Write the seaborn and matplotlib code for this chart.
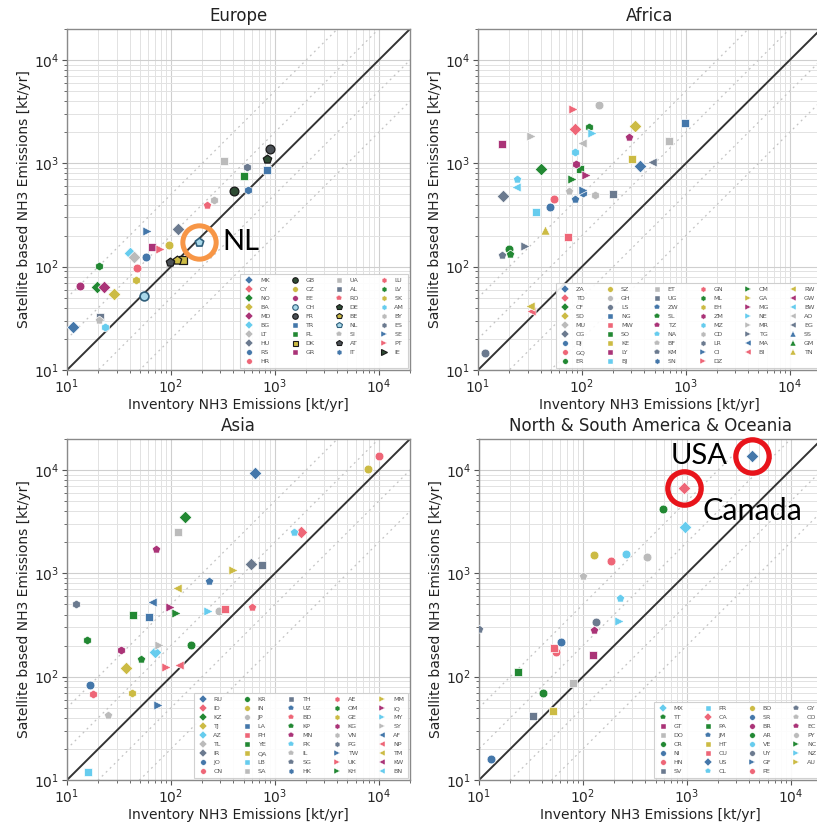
import numpy as np
import matplotlib
matplotlib.use("Agg")
import matplotlib.pyplot as plt
from matplotlib.lines import Line2D
import seaborn as sns

nan = np.nan

# ---------------- data ----------------
EU_CODES = ['MK','CY','NO','BA','MD','BG','LT','HU','RS','HR','GB','CZ','EE','CH','FR',
            'TR','PL','DK','GR','UA','AL','RO','DE','BE','NL','SI','AT','IT','LU','LV',
            'SK','AM','BY','ES','SE','PT','IE']
EU_INV = [11.4, nan, 19.4, 28.1, 22.9, 40, 44.4, 116, 58, 47, 401, 96.4, 13.4, 54.6, 889,
          838, 500, 130, 65.6, 321, 20.9, 222, 849, 114, 187, 20.2, 98.6, 558, nan, 20.1,
          46.4, 23.4, 261, 538, 58.7, 77.8, nan]
EU_SAT = [26.3, nan, 64, 55, 63, 136, 125, 230, 125, 98, 543, 162, 65, 52, 1365,
          861, 760, 117, 156, 1050, 32.4, 393, 1110, 116, 172, 30.5, 112, 552, nan, 101,
          75, 25.9, 441, 914, 223, 147, nan]

AF_CODES = ['ZA','TD','CF','SD','MU','CG','DJ','GQ','ER','SZ','GH','LS','NG','MW','SO','KE',
            'LY','BJ','ET','UG','ZW','SL','TZ','NA','BF','KM','SN','GN','ML','EH','ZM','MZ',
            'CD','LR','CI','DZ','CM','GA','MG','NE','MR','TG','MA','BI','RW','GW','BW','AO',
            'EG','SS','GM','TN']
AF_INV = [361, 85.5, 40.8, 326, nan, 17.5, 49.8, 54.3, 19.7, nan, 145, 11.7, 985, 73.3, 96.4, 305,
          16.9, 36.1, 695, 201, 84.9, 20.4, 285, 23.5, 74.3, 16.9, 102, nan, 117, nan, 87.5, 85,
          135, nan, 102, 81.8, 80.5, nan, 110, 126, 32.4, 28.3, nan, 32.6, 31.6, nan, 23.2, 99.3,
          475, nan, nan, 44.5]
AF_SAT = [942, 2134, 881, 2296, nan, 483, 375, 455, 150, nan, 3670, 14.5, 2477, 195, 875, 1094,
          1538, 341, 1633, 505, 449, 134, 1812, 700, 540, 130, 515, nan, 2228, nan, 977, 1297,
          497, nan, 552, 3335, 700, nan, 770, 1950, 1854, 158, nan, 37.2, 41.6, nan, 594, 1585,
          1038, nan, nan, 226]

AS_CODES = ['RU','ID','KZ','TJ','AZ','TL','IR','JO','CN','KR','IN','JP','LA','PH','YE','QA',
            'LB','SA','TH','UZ','BD','KP','MN','PK','IL','SG','HK','AE','OM','GE','KG','VN',
            'PG','TW','UK','KH','MM','IQ','MY','SY','AF','NP','TM','KW','BN']
AS_INV = [647, 1780, 137, 36.9, 70.6, nan, 591, 16.8, 10070, 157, 7940, 290, 61, 333, 43.1, nan,
          15.8, 117, 750, 235, 601, 51.9, 71.2, 1535, 24.8, nan, nan, 17.7, 15.6, 42.5, 33, nan,
          12.3, 75.5, 89.5, 112, 394, 97, 230, 77.3, 65.6, 120, 114, nan, nan]
AS_SAT = [9420, 2494, 3483, 122, 175, nan, 1241, 84, 13770, 202, 10240, 432, 375, 455, 395, nan,
          12, 2512, 1205, 849, 475, 150, 1706, 2530, 43, nan, nan, 68, 226, 69, 181, nan,
          505, 53, 125, 410, 1084, 475, 432, 202, 524, 130, 716, nan, nan]

AM_CODES = ['MX','TT','GT','DO','CR','NI','HN','SV','PR','CA','PA','JM','HT','CU','US','CL',
            'BO','SR','BR','AR','VE','UY','GF','PE','GY','CO','EC','PY','NC','NZ','AU']
AM_INV = [964, nan, 126, 80.5, 41.3, 13.1, 55.6, 33, nan, 935, 23.5, nan, 51.3, 52.4, 4200, 225,
          129, 61.2, nan, 586, 257, 135, nan, 185, 10.05, 100, 129, 413, nan, 223, nan]
AM_SAT = [2786, nan, 164, 87.5, 69, 16, 172, 42, nan, 6745, 112, nan, 46.9, 191, 13770, 582,
          1503, 215, nan, 4160, 1528, 336, nan, 1327, 287, 948, 281, 1439, nan, 343, nan]

# ---------------- styles ----------------
PAL = {'B': '#4477AA', 'R': '#EE6677', 'G': '#228833', 'Y': '#CCBB44', 'M': '#AA3377',
       'C': '#66CCEE', 'L': '#BBBBBB', 'S': '#6B7A8F', 'K': '#2E4B33', 'A': '#4A4F55'}

EU_COLOR = 'B R G Y M C L S B R K Y M C A B G Y M L S R K Y C L A B R G Y C L S B R K'.split()
EU_MARK = ['D'] * 8 + ['o'] * 7 + ['s'] * 6 + ['p'] * 6 + ['h'] * 7 + ['>'] * 3
EU_EDGE = ['w'] * 37
for c in ['GB', 'FR', 'DK', 'DE', 'BE', 'AT', 'IE']:
    EU_EDGE[EU_CODES.index(c)] = 'k'
for c in ['CH', 'NL']:
    EU_EDGE[EU_CODES.index(c)] = '#2F5E7A'

AF_COLOR = ('B R G Y L S B R G Y L S B R G Y M C L S B G M C L S B R G Y M C L S '
            'B R G Y M C L S B R Y M C L S B G Y').split()
AF_MARK = ['D'] * 6 + ['o'] * 6 + ['s'] * 8 + ['p'] * 6 + ['h'] * 8 + ['>'] * 8 + ['<'] * 7 + ['^'] * 3
AF_EDGE = ['w'] * 52

AS_COLOR = ('B R G Y C L S B R G Y L B R G Y C L S B R G M C L S B R G Y M L S '
            'B R G Y M C L B R Y M C').split()
AS_MARK = ['D'] * 7 + ['o'] * 5 + ['s'] * 7 + ['p'] * 7 + ['h'] * 7 + ['>'] * 7 + ['<'] * 5
AS_EDGE = ['w'] * 45

AM_COLOR = ('C G M L G B R S C R G B Y R B C Y B M G C S B R S L M L G C Y').split()
AM_MARK = ['D', 'p', 's', 's', 'o', 'o', 'o', 's', 's', 'D', 's', 'p', 's', 's', 'D', 'p',
           'o', 'o', 'o', 'o', 'o', 'o', '>', 'o', 'p', 'p', 'p', 'o', '>', '>', '>']
AM_EDGE = ['w'] * 31

SIZES = {'D': 42, 'o': 40, 's': 34, 'p': 40, 'h': 40, '>': 44, '<': 44, '^': 44}
LEG_MS = {'D': 3.8, 'o': 4.0, 's': 3.6, 'p': 4.0, 'h': 4.0, '>': 4.2, '<': 4.2, '^': 4.2}

# ---------------- plot ----------------
sns.set_theme(style="whitegrid")
plt.rcParams['font.family'] = ['DejaVu Sans']

fig = plt.figure(figsize=(8.17, 8.23), dpi=100)
W, H = 817.0, 823.0
AX_W, AX_H = 343 / W, 341 / H
boxes = {
    'Europe': [67 / W, (H - 370) / H, AX_W, AX_H],
    'Africa': [478 / W, (H - 370) / H, AX_W, AX_H],
    'Asia': [67 / W, (H - 780) / H, AX_W, AX_H],
    'America': [479 / W, (H - 780) / H, AX_W, AX_H],
}


def draw_region(ax, title, codes, inv, sat, colors, marks, edges, ncol):
    ax.set_xscale('log')
    ax.set_yscale('log')
    ax.set_xlim(10, 2e4)
    ax.set_ylim(10, 2e4)
    ax.set_facecolor('white')
    ax.grid(True, which='major', color='#CFCFCF', lw=0.8)
    ax.grid(True, which='minor', color='#E2E2E2', lw=0.7)
    ax.set_axisbelow(True)
    for sp in ax.spines.values():
        sp.set_color('#8A8A8A')
        sp.set_linewidth(1.0)
    ax.tick_params(which='both', bottom=True, left=True, direction='out', color='#555555',
                   labelsize=10, pad=2)
    ax.tick_params(which='major', length=3.5, width=0.8)
    ax.tick_params(which='minor', length=2.0, width=0.6)
    ref = np.array([1.0, 1e5])
    for f in (2.0, 5.0):
        ax.plot(ref, ref * f, color='#C4C4C4', lw=0.9, ls=(0, (1.5, 3)), zorder=1.5)
        ax.plot(ref, ref / f, color='#C4C4C4', lw=0.9, ls=(0, (1.5, 3)), zorder=1.5)
    ax.plot(ref, ref, color='#333333', lw=1.4, zorder=2)

    handles = []
    for c, xv, yv, col, m, e in zip(codes, inv, sat, colors, marks, edges):
        face = PAL[col]
        lw = 0.9 if e != 'w' else 0.5
        if e == '#2F5E7A':
            face = '#A9D9EA'
            lw = 1.2
        if not (np.isnan(xv) or np.isnan(yv)):
            sns.scatterplot(x=[xv], y=[yv], ax=ax, marker=m, color=face, edgecolor=e,
                            linewidth=lw, s=SIZES[m], zorder=3, legend=False)
        handles.append(Line2D([], [], ls='', marker=m, markersize=LEG_MS[m],
                              markerfacecolor=face, markeredgecolor=e,
                              markeredgewidth=0.8 if e != 'w' else 0.3, label=c))
    leg = ax.legend(handles=handles, ncol=ncol, loc='lower right', fontsize=4.6,
                    labelspacing=0.55, columnspacing=3.0, handletextpad=0.9,
                    handlelength=1.6, borderaxespad=0.3, borderpad=0.6,
                    frameon=True, fancybox=False, framealpha=0.9)
    leg.get_frame().set_edgecolor('#CCCCCC')
    leg.get_frame().set_linewidth(0.8)
    for t in leg.get_texts():
        t.set_color('#555555')
    leg.set_zorder(5)
    ax.set_title(title, fontsize=12, pad=6, color='#222222')
    ax.set_xlabel('Inventory NH3 Emissions [kt/yr]', fontsize=10, labelpad=1, color='#222222')
    ax.set_ylabel('Satellite based NH3 Emissions [kt/yr]', fontsize=10, labelpad=2, color='#222222')


ax_eu = fig.add_axes(boxes['Europe'])
draw_region(ax_eu, 'Europe', EU_CODES, EU_INV, EU_SAT, EU_COLOR, EU_MARK, EU_EDGE, 4)
ax_af = fig.add_axes(boxes['Africa'])
draw_region(ax_af, 'Africa', AF_CODES, AF_INV, AF_SAT, AF_COLOR, AF_MARK, AF_EDGE, 6)
ax_as = fig.add_axes(boxes['Asia'])
draw_region(ax_as, 'Asia', AS_CODES, AS_INV, AS_SAT, AS_COLOR, AS_MARK, AS_EDGE, 5)
ax_am = fig.add_axes(boxes['America'])
draw_region(ax_am, 'North & South America & Oceania', AM_CODES, AM_INV, AM_SAT,
            AM_COLOR, AM_MARK, AM_EDGE, 4)

# ---------------- slide annotations ----------------
ANN_FONT = ['Lato', 'DejaVu Sans']
i = EU_CODES.index('NL')
ax_eu.plot([EU_INV[i]], [EU_SAT[i]], marker='o', ms=24, mfc='none', mec='#F79646', mew=3.6,
           zorder=6, clip_on=False)
ax_eu.annotate('NL', (EU_INV[i], EU_SAT[i]), xytext=(16.5, 0), textcoords='offset points',
               fontsize=21, family=ANN_FONT, va='center', ha='left', color='black', zorder=6)

j = AM_CODES.index('US')
k = AM_CODES.index('CA')
for idx in (j, k):
    ax_am.plot([AM_INV[idx]], [AM_SAT[idx]], marker='o', ms=24, mfc='none', mec='#E8141B',
               mew=3.8, zorder=6, clip_on=False)
ax_am.annotate('USA', (AM_INV[j], AM_SAT[j]), xytext=(-17, 0), textcoords='offset points',
               fontsize=21, family=ANN_FONT, va='center', ha='right', color='black', zorder=6)
ax_am.annotate('Canada', (AM_INV[k], AM_SAT[k]), xytext=(13.5, -17), textcoords='offset points',
               fontsize=22, family=ANN_FONT, va='center', ha='left', color='black', zorder=6)

fig.savefig('out.png', dpi=100)
